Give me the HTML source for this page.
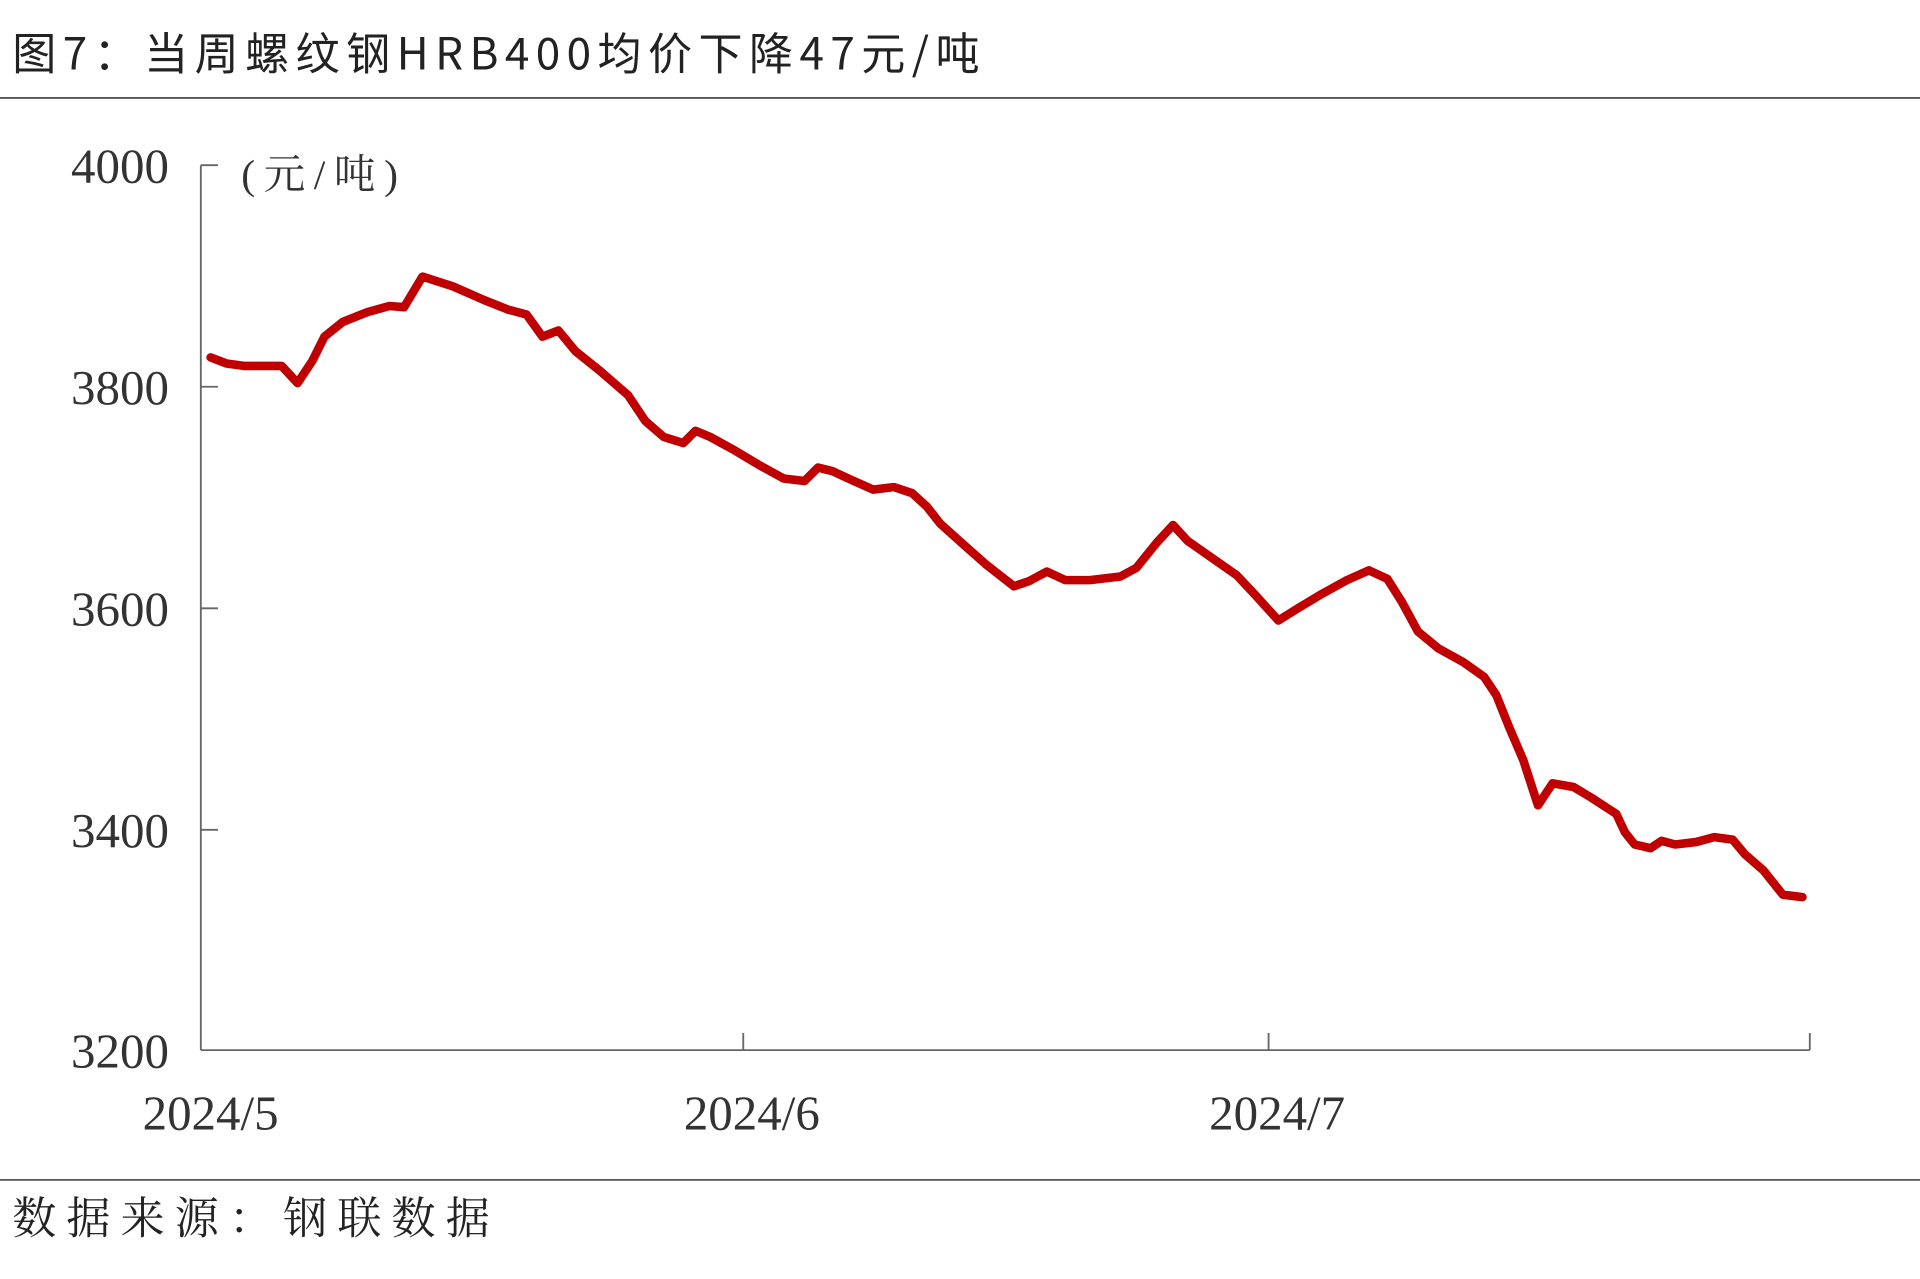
<!DOCTYPE html>
<html><head><meta charset="utf-8"><style>
html,body{margin:0;padding:0;background:#fff;}
svg{display:block;}
</style></head><body>
<svg width="1920" height="1279" viewBox="0 0 1568 1045" preserveAspectRatio="none" xmlns="http://www.w3.org/2000/svg">
<rect width="1568" height="1045" fill="#fff"/>
<text x="10" y="57" textLength="790" lengthAdjust="spacing" font-family="'Noto Sans CJK SC', 'WenQuanYi Zen Hei', sans-serif" font-size="36" fill="#222">图7：当周螺纹钢HRB400均价下降47元/吨</text>
<line x1="0" y1="80" x2="1568" y2="80" stroke="#555" stroke-width="1.5"/>
<line x1="0" y1="964" x2="1568" y2="964" stroke="#555" stroke-width="1.5"/>
<text x="10" y="1008" textLength="390" lengthAdjust="spacing" font-family="'Noto Serif CJK SC', 'Noto Sans CJK SC', serif" font-size="36" fill="#222">数据来源：钢联数据</text>
<g stroke="#666" stroke-width="1.5" fill="none">
<line x1="164" y1="135" x2="164" y2="858"/>
<line x1="164" y1="858" x2="1478" y2="858"/>
<line x1="164" y1="135" x2="178" y2="135"/>
<line x1="164" y1="316" x2="178" y2="316"/>
<line x1="164" y1="497" x2="178" y2="497"/>
<line x1="164" y1="678" x2="178" y2="678"/>
<line x1="607" y1="858" x2="607" y2="844"/>
<line x1="1036" y1="858" x2="1036" y2="844"/>
<line x1="1478" y1="858" x2="1478" y2="844"/>
</g>
<g font-family="'Liberation Serif', serif" font-size="40" fill="#333" text-anchor="end">
<text x="138" y="149">4000</text>
<text x="138" y="330">3800</text>
<text x="138" y="511">3600</text>
<text x="138" y="692">3400</text>
<text x="138" y="872">3200</text>
</g>
<g font-family="'Liberation Serif', serif" font-size="40" fill="#333" text-anchor="middle">
<text x="172" y="923">2024/5</text>
<text x="614" y="923">2024/6</text>
<text x="1043" y="923">2024/7</text>
</g>
<text x="197" y="154" textLength="128" lengthAdjust="spacing" font-family="'Liberation Serif', 'Noto Serif CJK SC', serif" font-size="34" fill="#333">(元/吨)</text>
<polyline fill="none" stroke="#c00000" stroke-width="7" stroke-linejoin="round" stroke-linecap="round"
points="172,292 185,297 200,299 230,299 243,313 255,295 265,275 280,263 300,255 318,250 330,251 345,226 370,234 395,245 415,253 430,257 443,275 456,270 470,287 490,303 513,323 527,344 542,357 558,362 568,352 580,357 600,368 620,380 640,391 657,393 668,382 680,385 695,392 713,400 730,398 745,403 757,414 768,428 787,445 805,461 828,479 840,475 855,467 870,474 890,474 915,471 928,464 945,443 958,429 970,442 990,456 1010,470 1025,486 1044,507 1060,497 1080,485 1100,474 1118,466 1133,473 1145,492 1158,516 1175,530 1195,541 1212,553 1222,568 1232,593 1244,621 1256,658 1268,640 1285,643 1300,652 1320,665 1327,680 1335,690 1348,693 1357,687 1368,690 1385,688 1400,684 1415,686 1425,698 1440,711 1456,731 1472,733"/>
</svg>
</body></html>
